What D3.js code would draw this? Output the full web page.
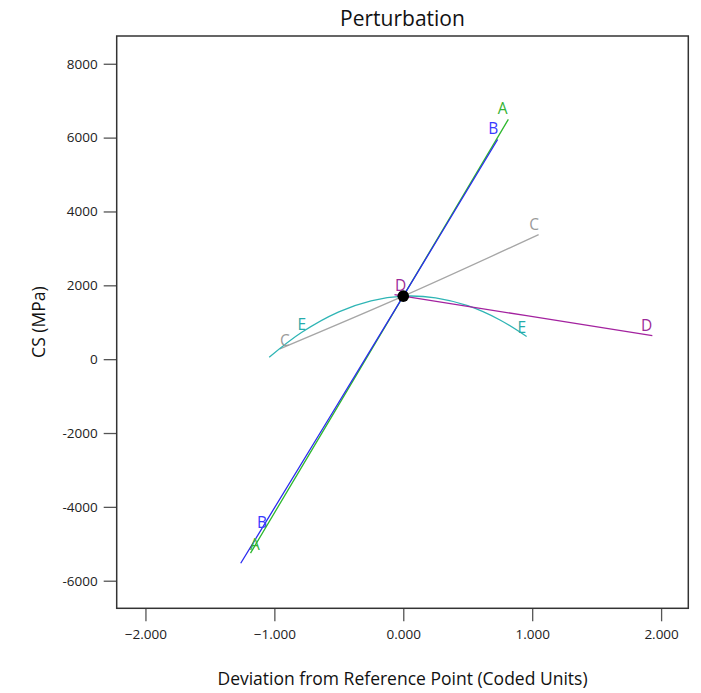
<!DOCTYPE html>
<html>
<head>
<meta charset="utf-8">
<script src="https://cdn.jsdelivr.net/npm/d3@7"></script>
<style>
  html, body { margin: 0; padding: 0; background: #fff; }
  svg { display: block; font-family: "Open Sans", "Noto Sans", sans-serif; }
</style>
</head>
<body>
<svg id="chart" width="701" height="693"></svg>
<script>
// Perturbation plot: CS response vs. deviation of each factor from the reference point
const factors = ["A", "B", "C", "D", "E"];
const factorColors = ["#2eb82e", "#2b2bf0", "#a6a6a6", "#a3229f", "#2fb5b5"];
const labelColors  = ["#33b233", "#3a3aff", "#9a9a9a", "#9c2a99", "#26abab"];

// curve samples (coded units, MPa)
const xA = [-1.185, 0, 0.815];
const yA = [-5252, 1706, 6492];
const xB = [-1.261, 0, 0.732];
const yB = [-5526, 1706, 5950];
const xC = [-0.957, 0, 1.050];
const yC = [279, 1706, 3372];
const xD = [-0.068, 0, 1.932];
const yD = [1745, 1706, 640];
const xE = [-1.04, -0.79, -0.5, -0.25, 0, 0.25, 0.5, 0.75, 0.957];
const yE = [52, 720, 1280, 1579, 1706, 1662, 1448, 1062, 613];

// letter tags drawn along each curve (two per factor)
const tagX = [[-1.150, 0.771], [-1.095, 0.698], [-0.918, 1.016], [-0.020, 1.888], [-0.788, 0.919]];
const tagY = [[-5000, 6791], [-4400, 6248], [532, 3652], [2016, 912], [958, 866]];

// reference point
const refX = [0];
const refY = [1706];

const xTicks = [-2, -1, 0, 1, 2];
const yTicks = [-6000, -4000, -2000, 0, 2000, 4000, 6000, 8000];
const xDomain = [-2.223, 2.211];
const yDomain = [-6747, 8752];

const titleText = "Perturbation";
const xTitle = "Deviation from Reference Point (Coded Units)";
const yTitle = "CS (MPa)";

const seriesX = [xA, xB, xC, xD, xE];
const seriesY = [yA, yB, yC, yD, yE];

const svg = d3.select("#chart");
const plot = { left: 116.7, right: 688.3, top: 36, bottom: 608.3 };

const x = d3.scaleLinear().domain(xDomain).range([plot.left, plot.right]);
const y = d3.scaleLinear().domain(yDomain).range([plot.bottom, plot.top]);

// axes with outward ticks
const xAxis = d3.axisBottom(x).tickValues(xTicks).tickFormat(d3.format(".3f"))
  .tickSizeInner(13).tickSizeOuter(0).tickPadding(8);
const yAxis = d3.axisLeft(y).tickValues(yTicks).tickFormat(d => String(d))
  .tickSizeInner(13).tickSizeOuter(0).tickPadding(6);

const gx = svg.append("g").attr("transform", `translate(0,${plot.bottom})`).call(xAxis);
const gy = svg.append("g").attr("transform", `translate(${plot.left},0)`).call(yAxis);
[gx, gy].forEach(g => {
  g.select(".domain").remove();
  g.selectAll(".tick line").attr("stroke", "#555").attr("stroke-width", 1.3);
  g.selectAll(".tick text").attr("fill", "#222").style("font-size", "13.5px")
    .style("font-family", "'Open Sans', 'Noto Sans', sans-serif");
});

// curves
const line = d3.line().x(d => x(d[0])).y(d => y(d[1])).curve(d3.curveCatmullRom.alpha(0.5));
const drawOrder = [2, 4, 3, 0, 1];
drawOrder.forEach(i => {
  const pts = seriesX[i].map((v, k) => [v, seriesY[i][k]]);
  svg.append("path")
    .attr("d", line(pts))
    .attr("fill", "none")
    .attr("stroke", factorColors[i])
    .attr("stroke-width", 1.3);
});

// factor letters
factors.forEach((f, i) => {
  tagX[i].forEach((tx, k) => {
    svg.append("text")
      .attr("x", x(tx))
      .attr("y", y(tagY[i][k]))
      .attr("text-anchor", "middle")
      .attr("dominant-baseline", "central")
      .attr("fill", labelColors[i])
      .style("font-size", "15.5px")
      .text(f);
  });
});

// reference point marker
svg.selectAll("circle.ref").data(refX).enter().append("circle")
  .attr("class", "ref")
  .attr("cx", d => x(d))
  .attr("cy", (d, i) => y(refY[i]))
  .attr("r", 5.8)
  .attr("fill", "#000");

// frame
svg.append("rect")
  .attr("x", plot.left).attr("y", plot.top)
  .attr("width", plot.right - plot.left).attr("height", plot.bottom - plot.top)
  .attr("fill", "none").attr("stroke", "#333").attr("stroke-width", 1.5);

// titles
svg.append("text")
  .attr("x", (plot.left + plot.right) / 2).attr("y", 18)
  .attr("text-anchor", "middle").attr("dominant-baseline", "central")
  .attr("fill", "#111").style("font-size", "21px")
  .text(titleText);

svg.append("text")
  .attr("x", (plot.left + plot.right) / 2).attr("y", 678)
  .attr("text-anchor", "middle").attr("dominant-baseline", "central")
  .attr("fill", "#111").style("font-size", "17.5px")
  .text(xTitle);

svg.append("text")
  .attr("transform", `translate(38,${(plot.top + plot.bottom) / 2}) rotate(-90)`)
  .attr("text-anchor", "middle").attr("dominant-baseline", "central")
  .attr("fill", "#111").style("font-size", "17.5px")
  .text(yTitle);
</script>
</body>
</html>
